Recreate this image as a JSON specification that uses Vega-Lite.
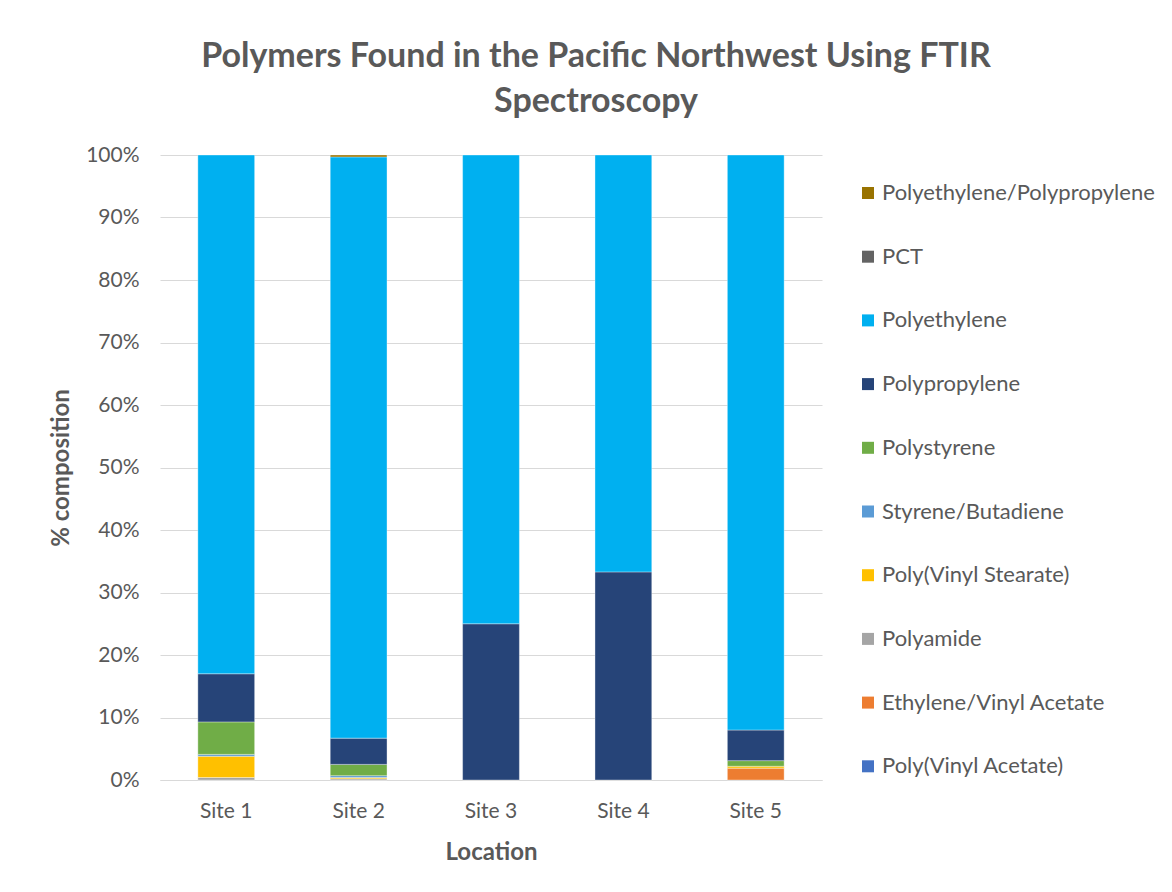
{
  "$schema": "https://vega.github.io/schema/vega-lite/v6.json",
  "width": 662,
  "height": 625,
  "autosize": "none",
  "padding": {"left": 160, "top": 155, "right": 350, "bottom": 112},
  "background": "white",
  "title": {
    "text": ["Polymers Found in the Pacific Northwest Using FTIR", "Spectroscopy"],
    "font": "Lato",
    "fontSize": 34,
    "fontWeight": "bold",
    "color": "#595959",
    "anchor": "middle",
    "frame": "group",
    "dx": 105,
    "offset": 25,
    "lineHeight": 45
  },
  "data": {
    "values": [
      {"site": "Site 1", "polymer": "Polyamide", "value": 0.4},
      {"site": "Site 1", "polymer": "Poly(Vinyl Stearate)", "value": 3.4},
      {"site": "Site 1", "polymer": "Styrene/Butadiene", "value": 0.3},
      {"site": "Site 1", "polymer": "Polystyrene", "value": 5.2},
      {"site": "Site 1", "polymer": "Polypropylene", "value": 7.7},
      {"site": "Site 1", "polymer": "Polyethylene", "value": 83.0},
      {"site": "Site 2", "polymer": "Polyamide", "value": 0.2},
      {"site": "Site 2", "polymer": "Poly(Vinyl Stearate)", "value": 0.2},
      {"site": "Site 2", "polymer": "Styrene/Butadiene", "value": 0.3},
      {"site": "Site 2", "polymer": "Polystyrene", "value": 1.8},
      {"site": "Site 2", "polymer": "Polypropylene", "value": 4.2},
      {"site": "Site 2", "polymer": "Polyethylene", "value": 93.0},
      {"site": "Site 2", "polymer": "Polyethylene/Polypropylene", "value": 0.3},
      {"site": "Site 3", "polymer": "Polypropylene", "value": 25.0},
      {"site": "Site 3", "polymer": "Polyethylene", "value": 75.0},
      {"site": "Site 4", "polymer": "Polypropylene", "value": 33.3},
      {"site": "Site 4", "polymer": "Polyethylene", "value": 66.7},
      {"site": "Site 5", "polymer": "Ethylene/Vinyl Acetate", "value": 1.9},
      {"site": "Site 5", "polymer": "Poly(Vinyl Stearate)", "value": 0.3},
      {"site": "Site 5", "polymer": "Polystyrene", "value": 0.9},
      {"site": "Site 5", "polymer": "Polypropylene", "value": 4.9},
      {"site": "Site 5", "polymer": "Polyethylene", "value": 92.0}
    ]
  },
  "transform": [
    {"calculate": "indexof(['Poly(Vinyl Acetate)','Ethylene/Vinyl Acetate','Polyamide','Poly(Vinyl Stearate)','Styrene/Butadiene','Polystyrene','Polypropylene','Polyethylene','PCT','Polyethylene/Polypropylene'], datum.polymer)", "as": "ord"}
  ],
  "mark": {"type": "bar", "stroke": "white", "strokeWidth": 0.6, "strokeOpacity": 0.6},
  "encoding": {
    "x": {
      "field": "site",
      "type": "nominal",
      "scale": {"paddingInner": 0.571, "paddingOuter": 0.286},
      "axis": {
        "title": "Location",
        "labelAngle": 0,
        "labelFont": "Lato",
        "labelFontSize": 21,
        "labelColor": "#595959",
        "labelPadding": 20,
        "titleFont": "Lato",
        "titleFontSize": 24,
        "titleFontWeight": "bold",
        "titleColor": "#595959",
        "titlePadding": 19,
        "domain": true,
        "domainColor": "#d9d9d9",
        "ticks": false
      }
    },
    "y": {
      "field": "value",
      "type": "quantitative",
      "stack": "normalize",
      "scale": {"domain": [0, 1]},
      "axis": {
        "title": "% composition",
        "format": ".0%",
        "values": [0, 0.1, 0.2, 0.3, 0.4, 0.5, 0.6, 0.7, 0.8, 0.9, 1],
        "labelFont": "Lato",
        "labelFontSize": 21,
        "labelColor": "#595959",
        "labelPadding": 21,
        "titleFont": "Lato",
        "titleFontSize": 24,
        "titleFontWeight": "bold",
        "titleColor": "#595959",
        "titlePadding": 12,
        "domain": false,
        "ticks": false,
        "grid": true,
        "gridColor": "#d9d9d9",
        "gridWidth": 1
      }
    },
    "color": {
      "field": "polymer",
      "type": "nominal",
      "scale": {
        "domain": ["Polyethylene/Polypropylene", "PCT", "Polyethylene", "Polypropylene", "Polystyrene", "Styrene/Butadiene", "Poly(Vinyl Stearate)", "Polyamide", "Ethylene/Vinyl Acetate", "Poly(Vinyl Acetate)"],
        "range": ["#997300", "#636363", "#00B0F0", "#264478", "#70AD47", "#5B9BD5", "#FFC000", "#A5A5A5", "#ED7D31", "#4472C4"]
      },
      "legend": {
        "title": null,
        "orient": "none",
        "legendX": 697,
        "legendY": 27,
        "symbolType": "square",
        "symbolSize": 144,
        "symbolStrokeWidth": 0,
        "labelFont": "Lato",
        "labelFontSize": 22,
        "labelColor": "#595959",
        "labelOffset": 3,
        "rowPadding": 41.7,
        "labelLimit": 400
      }
    },
    "order": {"field": "ord", "type": "quantitative", "sort": "ascending"}
  },
  "config": {"view": {"stroke": null}}
}
